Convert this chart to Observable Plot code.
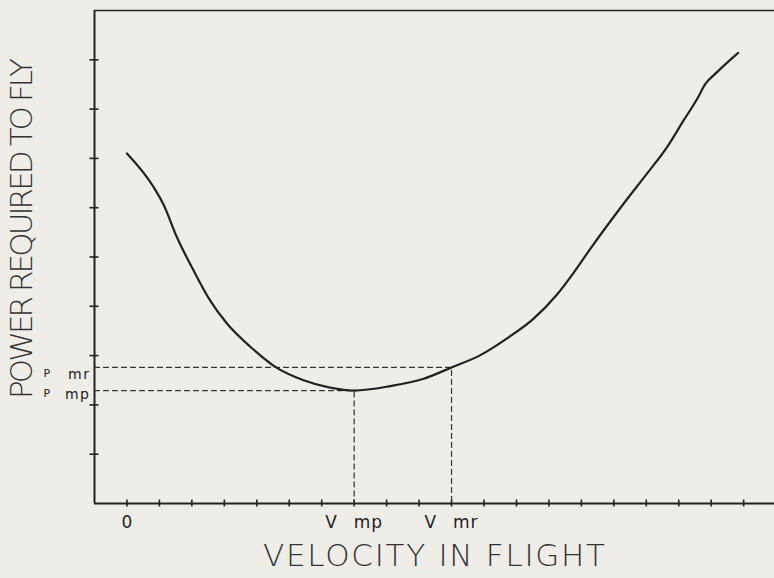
<!DOCTYPE html>
<html><head><meta charset="utf-8">
<script src="https://cdn.jsdelivr.net/npm/d3@7"></script>
<script src="https://cdn.jsdelivr.net/npm/@observablehq/plot@0.6"></script>
<style>
html,body{margin:0;padding:0;background:#efede7;}
#chart{width:774px;height:578px;overflow:hidden;}
</style></head><body><div id="chart"></div>
<script>
// Curve (velocity in tick units, power in tick units)
const velocity = [0, 0.82, 1.13, 1.54, 2.05, 2.56, 3.08, 3.80, 4.62, 5.44, 6.26, 7.0, 8.11, 9.14, 10.0, 10.89, 11.71, 12.53, 13.25, 13.76, 14.28, 15.30, 16.02, 16.64, 17.15, 17.57, 17.82, 18.18, 18.83];
const power    = [7.10, 6.42, 6.06, 5.40, 4.73, 4.12, 3.65, 3.18, 2.75, 2.50, 2.35, 2.29, 2.38, 2.53, 2.76, 3.01, 3.35, 3.75, 4.24, 4.68, 5.17, 6.08, 6.69, 7.23, 7.77, 8.21, 8.51, 8.75, 9.14];

const xTickValues = d3.range(0, 20);
const yTickValues = d3.range(1, 10);
const xLabelValues = [0, 7, 10];
const xLabelTexts = ["0", "V\u2002\u00a0mp", "V\u2002\u00a0mr"];
const vmp = 7, vmr = 10;
const pmp = 2.29, pmr = 2.76;
const xTitle = "VELOCITY IN FLIGHT";
const yTitle = "POWER REQUIRED TO FLY";

const curveData = velocity.map((v, i) => ({v, p: power[i]}));
const ink = "#222";
const font = "DejaVu Sans";

const chart = Plot.plot({
  width: 774, height: 578,
  marginLeft: 94, marginRight: 0, marginTop: 10, marginBottom: 75,
  style: {background: "#efede7", overflow: "visible"},
  x: {domain: [-1, 19.95], axis: null},
  y: {domain: [0, 10], axis: null},
  marks: [
    Plot.ruleY([0], {stroke: ink, strokeWidth: 2}),
    Plot.ruleY([10], {stroke: ink, strokeWidth: 1.6}),
    Plot.ruleX([-1], {stroke: ink, strokeWidth: 2}),
    Plot.ruleX(xTickValues, {y1: 0, y2: 0, insetTop: -3.5, insetBottom: -3.5, stroke: ink, strokeWidth: 1.6}),
    Plot.ruleY(yTickValues, {x1: -1, x2: -1, insetLeft: -4.5, insetRight: -4.5, stroke: ink, strokeWidth: 1.6}),
    Plot.line([[-1, pmr], [vmr, pmr], [vmr, 0]], {stroke: "#333", strokeWidth: 1.2, strokeDasharray: "5,4"}),
    Plot.line([[-1, pmp], [vmp, pmp], [vmp, 0]], {stroke: "#333", strokeWidth: 1.2, strokeDasharray: "5,4"}),
    Plot.line(curveData, {x: "v", y: "p", curve: "monotone-x", stroke: ink, strokeWidth: 2.2}),
    Plot.text(xLabelValues, {x: d => d, text: (d, i) => xLabelTexts[i], frameAnchor: "bottom", dy: 24, fontSize: 17, fontFamily: font, fill: "#222"}),
    Plot.text(["mr"], {x: -1, y: pmr, text: d => d, textAnchor: "end", dx: -4, dy: 7.4, fontSize: 14, fontFamily: font, fill: "#222"}),
    Plot.text(["P"], {x: -1, y: pmr, text: d => d, textAnchor: "middle", dx: -47.6, dy: 6.5, fontSize: 11, fontFamily: font, fill: "#222"}),
    Plot.text(["mp"], {x: -1, y: pmp, text: d => d, textAnchor: "end", dx: -4, dy: 4, fontSize: 14, fontFamily: font, fill: "#222"}),
    Plot.text(["P"], {x: -1, y: pmp, text: d => d, textAnchor: "middle", dx: -47.6, dy: 2.5, fontSize: 11, fontFamily: font, fill: "#222"}),
    Plot.text([xTitle], {text: d => d, frameAnchor: "bottom", dy: 62, fontSize: 31, fontFamily: font, fontWeight: 200, fill: "#333"}),
    Plot.text([yTitle], {text: d => d, frameAnchor: "left", textAnchor: "middle", rotate: -90, dx: -72.5, dy: -28.5, fontSize: 31, fontFamily: font, fontWeight: 200, fill: "#333"})
  ]
});

document.getElementById("chart").appendChild(chart);

// stretch titles to the lettered length
d3.select(chart).selectAll("text").each(function() {
  const t = this.textContent;
  if (t === xTitle) d3.select(this).attr("textLength", 343).attr("lengthAdjust", "spacing");
  if (t === yTitle) d3.select(this).attr("textLength", 341).attr("lengthAdjust", "spacing");
  if (t === "mr" || t === "mp") d3.select(this).style("letter-spacing", "1.5px");
  if (t.startsWith("V")) d3.select(this).style("letter-spacing", "1px");
});
</script>
</body></html>
